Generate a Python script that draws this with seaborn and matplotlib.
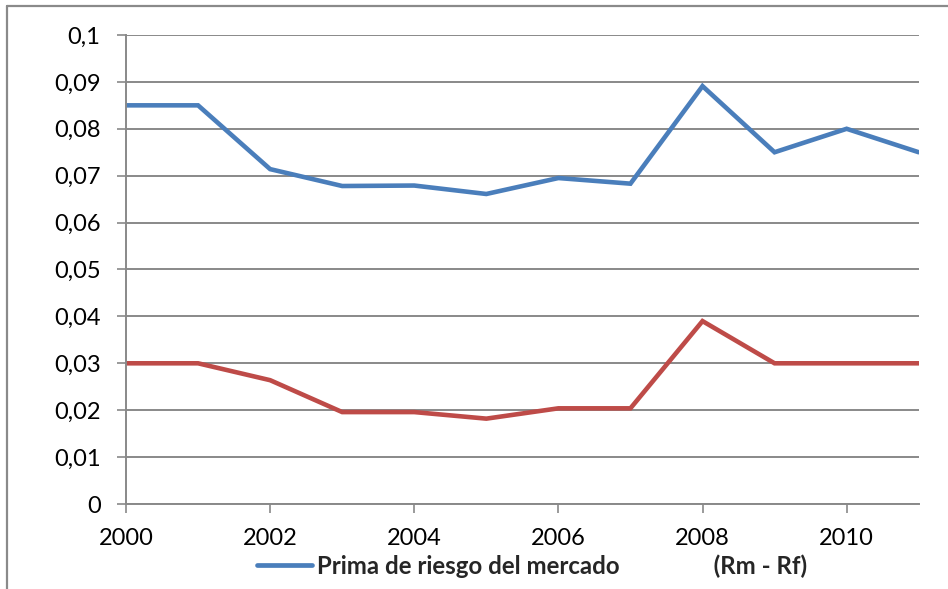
import matplotlib
matplotlib.use("Agg")
import matplotlib.pyplot as plt
from matplotlib.lines import Line2D
from matplotlib.ticker import FuncFormatter, MultipleLocator
import pandas as pd
import seaborn as sns

years = [2000, 2001, 2002, 2003, 2004, 2005, 2006, 2007, 2008, 2009, 2010, 2011]
prima_riesgo = [0.085, 0.085, 0.0714, 0.0678, 0.0679, 0.0661, 0.0695, 0.0683, 0.0891, 0.075, 0.080, 0.075]
rm_rf = [0.030, 0.030, 0.0264, 0.0196, 0.0196, 0.0182, 0.0204, 0.0204, 0.039, 0.030, 0.030, 0.030]
legend_label = "Prima de riesgo del mercado" + " " * 16 + "(Rm - Rf)"

blue = "#4a7ebb"
red = "#be4b48"
grid_gray = "#898989"

sns.set_theme(style="white")
plt.rcParams["font.family"] = ["Lato", "DejaVu Sans"]

df = pd.DataFrame({"year": years, "prima": prima_riesgo, "rmrf": rm_rf})

fig = plt.figure(figsize=(9.48, 5.89), dpi=100)
ax = fig.add_axes([0.1329, 0.1443, 0.9691 - 0.1329, 0.9406 - 0.1443])

sns.lineplot(data=df, x="year", y="prima", ax=ax, color=blue, linewidth=3.3,
             solid_capstyle="round", solid_joinstyle="miter")
sns.lineplot(data=df, x="year", y="rmrf", ax=ax, color=red, linewidth=3.3,
             solid_capstyle="round", solid_joinstyle="miter")

ax.set_xlim(2000, 2011)
ax.set_ylim(0, 0.1)
ax.set_xticks([2000, 2002, 2004, 2006, 2008, 2010])
ax.yaxis.set_major_locator(MultipleLocator(0.01))
ax.yaxis.set_major_formatter(FuncFormatter(lambda v, p: f"{round(v, 2):g}".replace(".", ",")))
ax.set_xlabel("")
ax.set_ylabel("")

ax.grid(axis="y", color=grid_gray, linewidth=1.4)
ax.set_axisbelow(True)
for side in ["top", "right"]:
    ax.spines[side].set_visible(False)
for side in ["left", "bottom"]:
    ax.spines[side].set_color(grid_gray)
    ax.spines[side].set_linewidth(1.4)

ax.tick_params(axis="both", which="major", direction="out", length=6.3, width=1.2,
               color=grid_gray, labelsize=17, labelcolor="black")
ax.tick_params(axis="y", pad=12)
ax.tick_params(axis="x", pad=11)
ax.tick_params(left=True, bottom=True)

handle = Line2D([0], [0], color=blue, linewidth=3.4)
fig.legend(handles=[handle], labels=[legend_label], loc="center",
           bbox_to_anchor=(0.561, 0.039), frameon=False, handlelength=2.3,
           handletextpad=0.2, borderpad=0.0, prop={"weight": "bold", "size": 17.3})

# outer chart frame
fig.add_artist(Line2D([7 / 948, 1.0], [1 - 5.5 / 589, 1 - 5.5 / 589], transform=fig.transFigure,
                      color="#8a8a8a", linewidth=1.6))
fig.add_artist(Line2D([7 / 948, 7 / 948], [0.0, 1 - 5.5 / 589], transform=fig.transFigure,
                      color="#8a8a8a", linewidth=1.6))

fig.savefig("out.png", dpi=100)
